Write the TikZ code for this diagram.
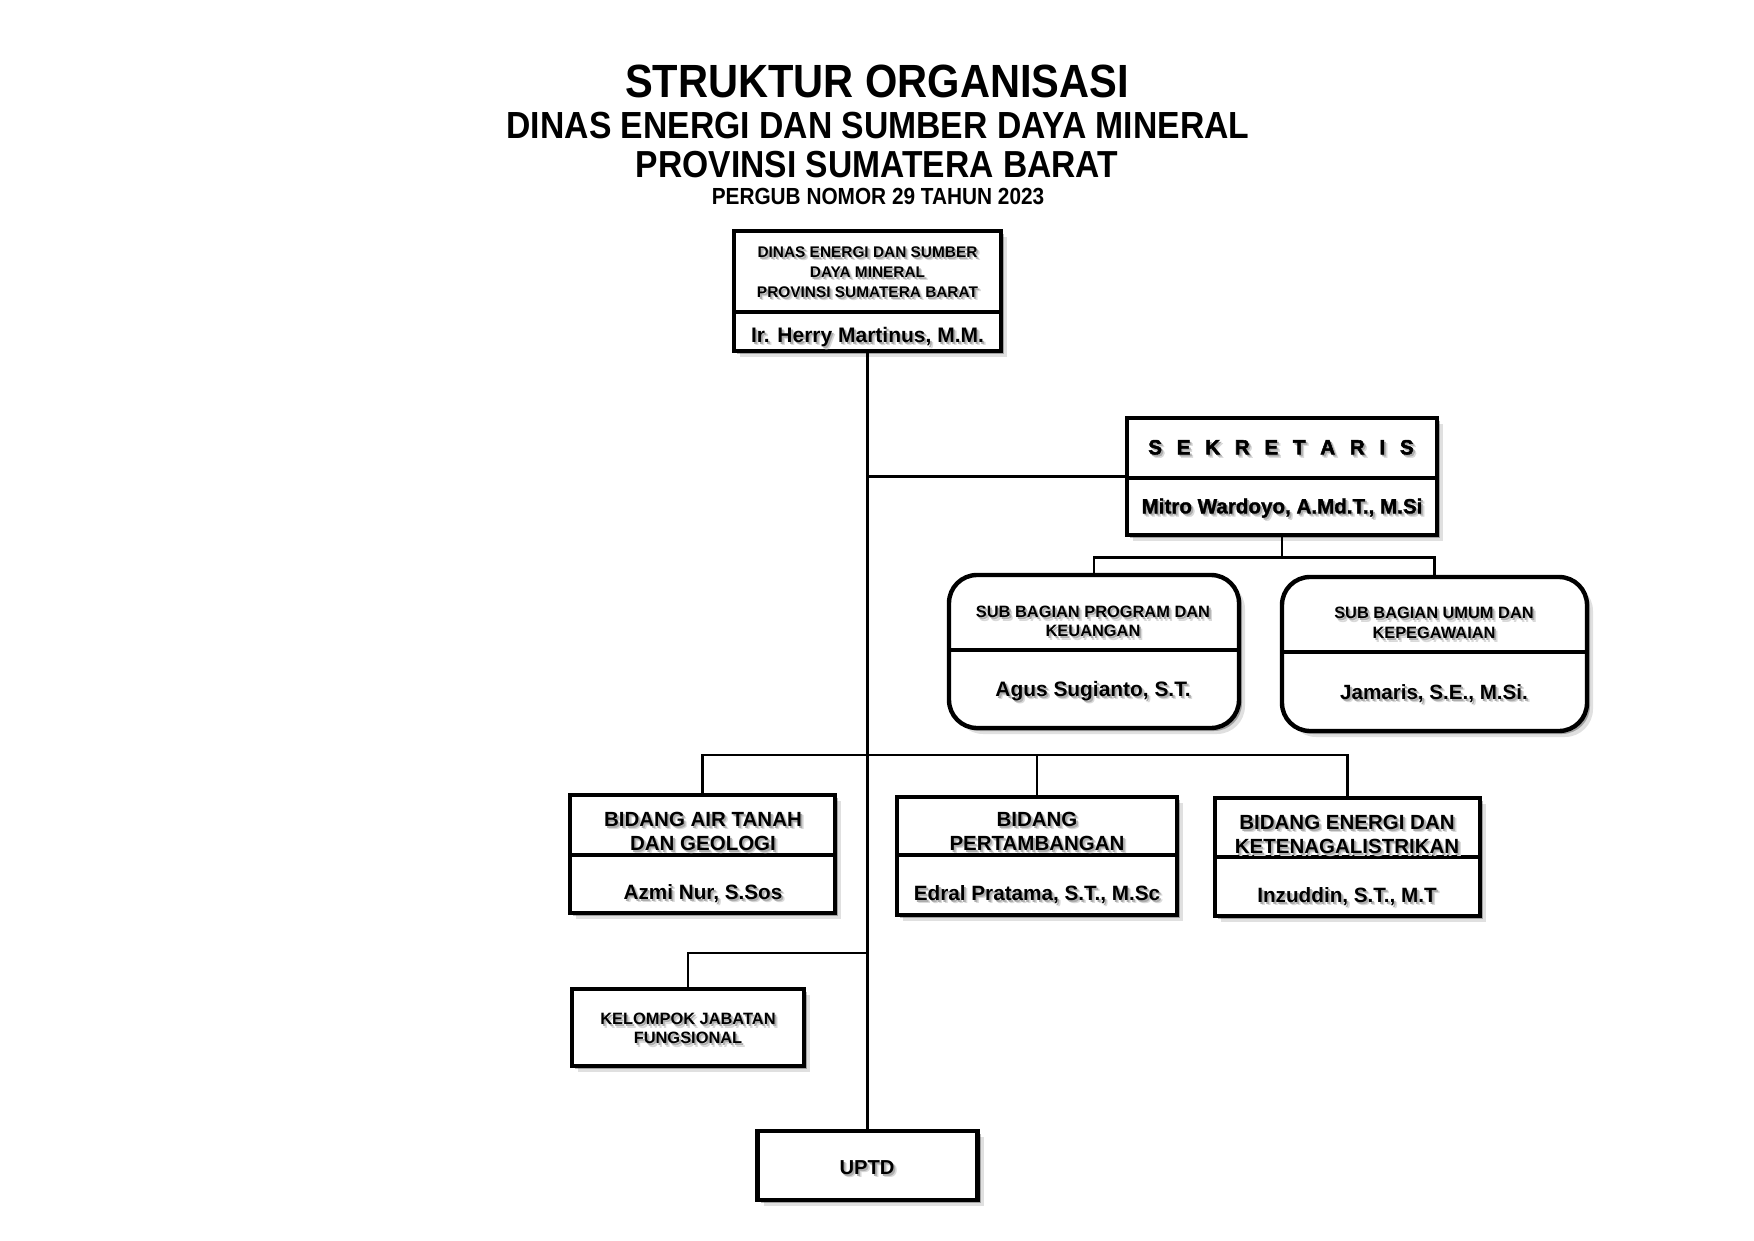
\documentclass[tikz,border=0pt]{standalone}
\usepackage{fontspec}
\setmainfont{Liberation Sans}
\newfontfamily\heavyfont{Liberation Sans}[BoldFeatures={FakeBold=2.5}]
\newfontfamily\semiheavyfont{Liberation Sans}[BoldFeatures={FakeBold=1.5}]
\usetikzlibrary{shadows}
\definecolor{shdA}{gray}{0.68}
\definecolor{shdB}{gray}{0.85}
\newcommand\shd[1]{\leavevmode\rlap{\hspace{3.2pt}\raisebox{-3.2pt}{\textcolor{shdB}{#1}}}\rlap{\hspace{1.8pt}\raisebox{-1.8pt}{\textcolor{shdA}{#1}}}#1}
% text line: name, x, y (cap centre), size, text
\newcommand\tl[5]{\node[tx,font=\fontsize{#4pt}{#4pt}\selectfont\bfseries] (#1) at (#2,{#3+0.358*#4}) {\shd{#5}};}
% heavier text lines
\newcommand\hl[5]{\node[tx,font=\fontsize{#4pt}{#4pt}\selectfont\heavyfont\bfseries] (#1) at (#2,{#3+0.358*#4}) {\shd{#5}};}
\newcommand\shl[5]{\node[tx,font=\fontsize{#4pt}{#4pt}\selectfont\semiheavyfont\bfseries] (#1) at (#2,{#3+0.358*#4}) {\shd{#5}};}
% title line (slightly stretched vertically)
\newcommand\ttl[5]{\node[tx,font=\fontsize{#4pt}{#4pt}\selectfont\bfseries] (#1) at (#2,{#3+0.358*#4*1.12}) {\scalebox{1}[1.12]{#5}};}
\newcommand\lsp{\hspace{14.8pt}}
\begin{document}
\begin{tikzpicture}[x=1pt,y=-1pt,
  tx/.style={anchor=base,inner sep=0pt,outer sep=0pt},
  box/.style={draw=black,line width=4.4pt,fill=white,inner sep=0pt,
    drop shadow={shadow xshift=6pt,shadow yshift=-6pt,fill=black,opacity=0.12},
    drop shadow={shadow xshift=3pt,shadow yshift=-3pt,fill=black,opacity=0.28}},
  rbox/.style={box,rounded corners=28pt},
  divl/.style={line width=3.2pt},
  conn/.style={line width=2.8pt,line join=miter}]
\fill[white] (0,0) rectangle (1754,1241);
\useasboundingbox (0,0) rectangle (1754,1241);

% ---------- title ----------
\ttl{t1}{877}{81}{41.6}{STRUKTUR ORGANISASI}
\ttl{t2}{878}{125}{33.7}{DINAS ENERGI DAN SUMBER DAYA MINERAL}
\ttl{t3}{877}{164}{33.6}{PROVINSI SUMATERA BARAT}
\ttl{t4}{878}{196}{20.8}{PERGUB NOMOR 29 TAHUN 2023}

% ---------- boxes ----------
\node[box,minimum width=267pt,minimum height=120pt] (tbox) at (867.5,291) {};
\node[box,minimum width=310pt,minimum height=117pt] (sek) at (1282,476.5) {};
\node[rbox,minimum width=290pt,minimum height=153pt] (sbl) at (1094,651.5) {};
\node[rbox,minimum width=305pt,minimum height=154pt] (sbr) at (1434.5,654) {};
\node[box,minimum width=265pt,minimum height=118pt] (bair) at (702.5,854) {};
\node[box,minimum width=280pt,minimum height=118pt] (bper) at (1037,856) {};
\node[box,minimum width=265pt,minimum height=118pt] (bene) at (1347.5,857) {};
\node[box,minimum width=232pt,minimum height=77pt] (kjf) at (688,1027.5) {};
\node[box,minimum width=220pt,minimum height=69pt] (uptd) at (867.5,1165.5) {};

% dividers
\draw[divl] (734,312) -- (1001,312);
\draw[divl] (1127,478) -- (1437,478);
\draw[divl] (949,650) -- (1239,650);
\draw[divl] (1282,652) -- (1587,652);
\draw[divl] (570,855) -- (835,855);
\draw[divl] (897,855) -- (1177,855);
\draw[divl] (1215,857) -- (1480,857);

% ---------- connectors ----------
\coordinate (bbar) at (867.5,755);
\coordinate (kj) at (867.5,953);
\draw[conn] (tbox.south) -- (uptd.north);
\draw[conn] (tbox.south |- sek.west) -- (sek.west);
\draw[conn] (sek.south) -- ++(0,20) -| (sbl.north);
\draw[conn] (sek.south) -- ++(0,20) -| (sbr.north);
\draw[conn] (bair.north) |- (bbar) -| (bene.north);
\draw[conn] (bper.north) -- (bper.north |- bbar);
\draw[conn] (kj) -| (kjf.north);

% ---------- texts ----------
\tl{ta}{867.5}{252}{15.4}{DINAS ENERGI DAN SUMBER}
\tl{tb}{867.5}{272}{15.4}{DAYA MINERAL}
\tl{tc}{867.5}{292}{15.4}{PROVINSI SUMATERA BARAT}
\tl{tn}{867.5}{335}{21}{Ir. Herry Martinus, M.M.}

\hl{sa}{1281}{447}{20.5}{S\lsp E\lsp K\lsp R\lsp E\lsp T\lsp A\lsp R\lsp I\lsp S}
\shl{sn}{1282}{506}{20.6}{Mitro Wardoyo, A.Md.T., M.Si}

\tl{la}{1093}{612}{16.4}{SUB BAGIAN PROGRAM DAN}
\tl{lb}{1093}{631}{16.4}{KEUANGAN}
\tl{ln}{1093}{689}{20.9}{Agus Sugianto, S.T.}

\tl{ra}{1434}{613}{16.4}{SUB BAGIAN UMUM DAN}
\tl{rb}{1434}{633}{16.4}{KEPEGAWAIAN}
\tl{rn}{1434}{692}{20.6}{Jamaris, S.E., M.Si.}

\tl{aa}{703}{819}{20.5}{BIDANG AIR TANAH}
\tl{ab}{703}{843}{20.5}{DAN GEOLOGI}
\tl{an}{703}{892}{20.7}{Azmi Nur, S.Sos}

\tl{pa}{1037}{819}{20.5}{BIDANG}
\tl{pb}{1037}{843}{20.5}{PERTAMBANGAN}
\tl{pn}{1037}{893}{20.7}{Edral Pratama, S.T., M.Sc}

\tl{ea}{1347}{822}{20.5}{BIDANG ENERGI DAN}
\tl{eb}{1347}{846}{20.5}{KETENAGALISTRIKAN}
\tl{en}{1347}{895}{20.7}{Inzuddin, S.T., M.T}

\tl{ka}{688}{1019}{16.4}{KELOMPOK JABATAN}
\tl{kb}{688}{1038}{16.4}{FUNGSIONAL}

\tl{ua}{867}{1167}{20.2}{UPTD}
\end{tikzpicture}
\end{document}
